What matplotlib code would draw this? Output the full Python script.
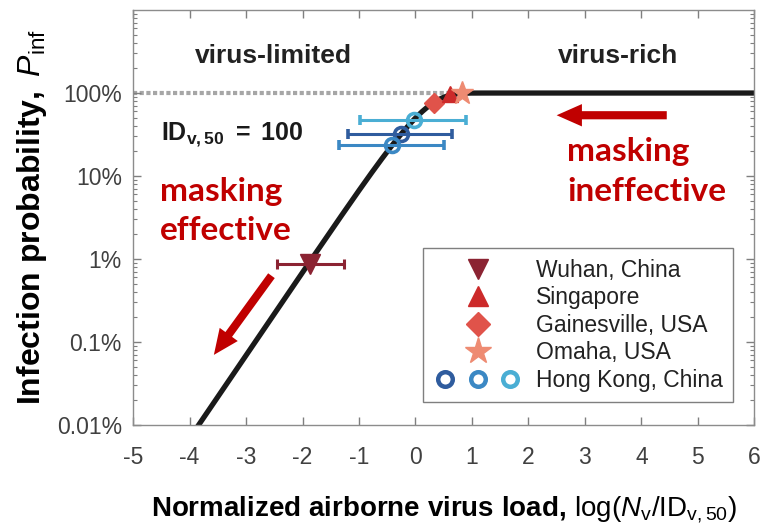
import numpy as np
import matplotlib.pyplot as plt
from matplotlib.lines import Line2D
from matplotlib.legend_handler import HandlerTuple
from matplotlib.ticker import FixedLocator, LogLocator, NullFormatter

plt.rcParams['font.family'] = ['Liberation Sans', 'DejaVu Sans']
plt.rcParams['mathtext.fontset'] = 'custom'
plt.rcParams['mathtext.rm'] = 'Liberation Sans'
plt.rcParams['mathtext.it'] = 'Liberation Sans:italic'
plt.rcParams['mathtext.bf'] = 'Liberation Sans:bold'

# dose-response model, ID50 in virus copies
id50 = 100
x_curve = np.linspace(-5, 6, 600)
p_curve = 1 - 2.0 ** (-(10.0 ** x_curve))

# outbreak estimates: log(Nv/ID50), infection probability, error bar ends
wuhan_x, wuhan_p, wuhan_lo, wuhan_hi = -1.86, 0.0088, -2.46, -1.26
singapore_x, singapore_p = 0.62, 0.98
gainesville_x, gainesville_p = 0.32, 0.76
omaha_x, omaha_p = 0.82, 1.0

hk_x = [-0.25, -0.42, -0.03]
hk_p = [0.32, 0.236, 0.475]
hk_lo = [-1.20, -1.35, -0.98]
hk_hi = [0.65, 0.51, 0.90]
hk_colors = ['#2F5C9E', '#3B88C4', '#4AAED4']

y_ticks = [1e-4, 1e-3, 1e-2, 1e-1, 1]
y_labels = ['0.01%', '0.1%', '1%', '10%', '100%']
x_ticks = list(range(-5, 7))

red = '#C00000'

fig = plt.figure(figsize=(7.65, 5.28), dpi=100)
ax = fig.add_axes([0.174, 0.195, 0.812, 0.786])

# saturation level and the model curve
ax.plot([-5, 0.8], [1, 1], color='#A6A6A6', lw=3, ls=(0, (1, 0.6)), zorder=1)
ax.plot(x_curve, p_curve, color='#1A1A1A', lw=3.8, zorder=2, solid_capstyle='butt')

# data points
ax.errorbar(wuhan_x, wuhan_p, xerr=[[wuhan_x - wuhan_lo], [wuhan_hi - wuhan_x]],
            fmt='v', color='#8B2332', ms=14, elinewidth=2.2, capsize=3.5, capthick=2.2, zorder=4)
for x, p, lo, hi, c in zip(hk_x, hk_p, hk_lo, hk_hi, hk_colors):
    ax.errorbar(x, p, xerr=[[x - lo], [hi - x]], fmt='o', color=c, mfc='none', mec=c,
                mew=2.6, ms=10, elinewidth=2.2, capsize=3.5, capthick=2.2, zorder=4)
ax.plot(gainesville_x, gainesville_p, 'D', color='#E0534A', ms=10, zorder=5)
ax.plot(singapore_x, singapore_p, '^', color='#CC2A2A', ms=12, zorder=5)
ax.plot(omaha_x, omaha_p, '*', color='#EE8B72', ms=17, zorder=6)

ax.set_yscale('log')
ax.set_xlim(-5, 6)
ax.set_ylim(1e-4, 10)
ax.set_xticks(x_ticks)
ax.set_xticklabels([str(v) for v in x_ticks])
ax.yaxis.set_major_locator(FixedLocator(y_ticks))
ax.set_yticklabels(y_labels)
ax.yaxis.set_minor_locator(LogLocator(base=10, subs=np.arange(2, 10), numticks=20))
ax.yaxis.set_minor_formatter(NullFormatter())
ax.tick_params(which='both', direction='in', top=True, right=True, color='#7F7F7F')
ax.tick_params(which='major', length=6, width=1, labelsize=16.5, labelcolor='#404040', pad=8)
ax.tick_params(axis='x', which='major', pad=15)
ax.tick_params(which='minor', length=3, width=0.8)
for s in ax.spines.values():
    s.set_color('#8C8C8C')
    s.set_linewidth(1)

ax.set_xlabel(r'$\mathbf{Normalized\ airborne\ virus\ load,}\,$log($N_\mathrm{v}$/ID$_\mathrm{v,50}$)',
              fontsize=20, labelpad=18)
ax.set_ylabel(r'$\mathbf{Infection\ probability,}$ $P_\mathrm{inf}$', fontsize=23, labelpad=6)

# annotations
ax.text(-2.51, 2.8, 'virus-limited', fontsize=19, fontweight='bold', color='#222222',
        ha='center', va='center')
ax.text(3.59, 2.8, 'virus-rich', fontsize=19, fontweight='bold', color='#222222',
        ha='center', va='center')
ax.text(-4.5, 0.27, r'$\mathbf{ID_{v,50}\ =\ 100}$', fontsize=18, color='#1A1A1A',
        ha='left', va='baseline')
ax.text(-4.53, 0.05, 'masking', fontsize=24, fontweight='bold', color=red,
        family='Lato', ha='left', va='baseline')
ax.text(-4.53, 0.017, 'effective', fontsize=24, fontweight='bold', color=red,
        family='Lato', ha='left', va='baseline')
ax.text(2.69, 0.152, 'masking', fontsize=24, fontweight='bold', color=red,
        family='Lato', ha='left', va='baseline')
ax.text(2.69, 0.05, 'ineffective', fontsize=24, fontweight='bold', color=red,
        family='Lato', ha='left', va='baseline')

arrow = dict(arrowstyle='simple,head_width=1.15,head_length=1.3,tail_width=0.42',
             color=red, lw=0, mutation_scale=14, shrinkA=0, shrinkB=0)
ax.annotate('', xy=(2.5, 0.54), xytext=(4.45, 0.54), arrowprops=arrow)
ax.annotate('', xy=(-3.57, 0.0007), xytext=(-2.55, 0.0063), arrowprops=arrow)

# legend
handles = [
    Line2D([], [], ls='none', marker='v', color='#8B2332', ms=15),
    Line2D([], [], ls='none', marker='^', color='#CC2A2A', ms=15),
    Line2D([], [], ls='none', marker='D', color='#E0534A', ms=12),
    Line2D([], [], ls='none', marker='*', color='#EE8B72', ms=20),
    tuple(Line2D([], [], ls='none', marker='o', mfc='none', mec=c, mew=3.2, ms=10.5)
          for c in hk_colors),
]
labels = ['Wuhan, China', 'Singapore', 'Gainesville, USA', 'Omaha, USA', 'Hong Kong, China']
leg = ax.legend(handles, labels, loc='lower right', bbox_to_anchor=(0.966, 0.055),
                fontsize=16.5, handlelength=3.9, handletextpad=0.6, labelspacing=0.2,
                borderpad=0.45, borderaxespad=0, fancybox=False, framealpha=1,
                edgecolor='#7F7F7F',
                handler_map={tuple: HandlerTuple(ndivide=None, pad=0.3)})
leg.get_frame().set_linewidth(1)
for t in leg.get_texts():
    t.set_color('#222222')

fig.savefig('out.png', dpi=100)
